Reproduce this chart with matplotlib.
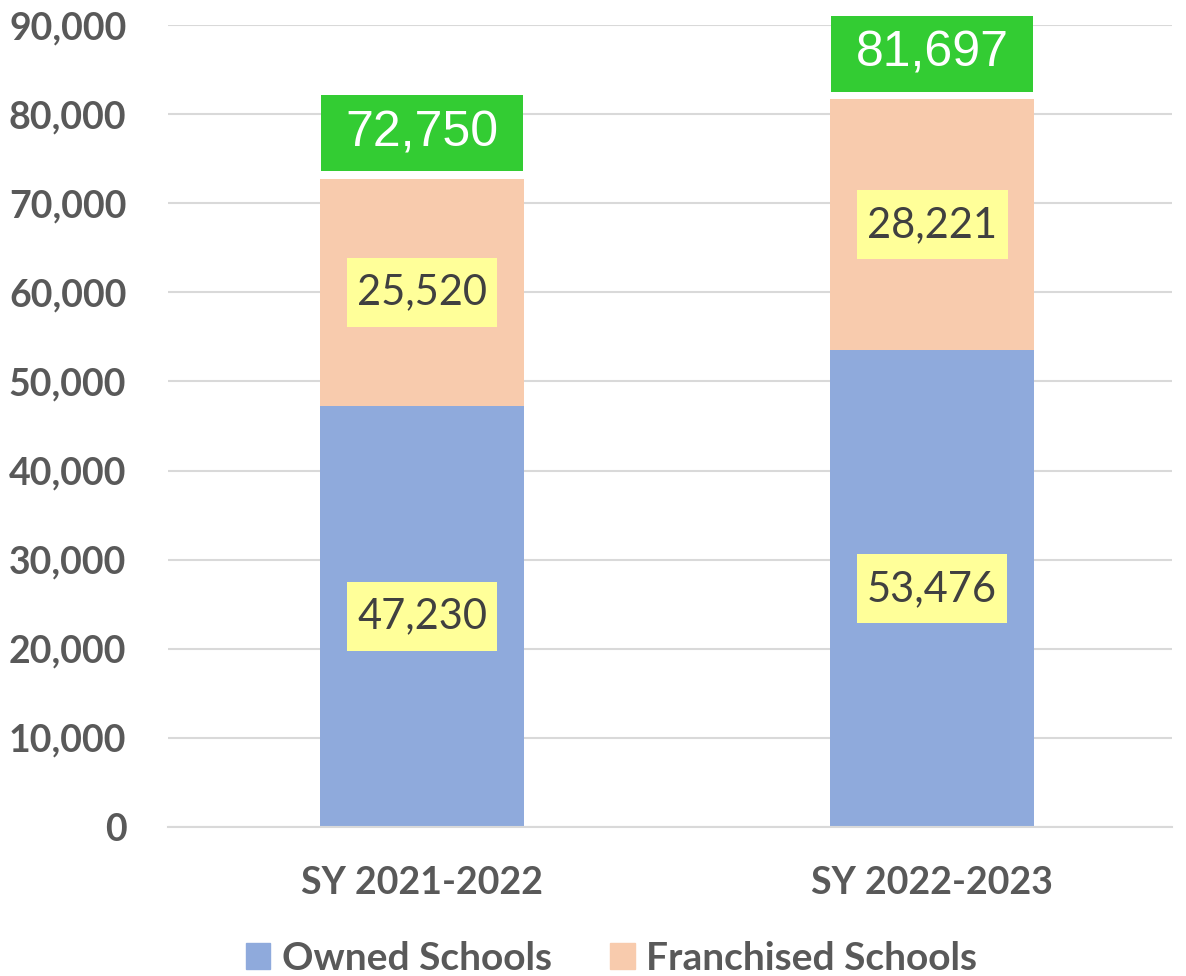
import matplotlib
matplotlib.use("Agg")
import matplotlib.pyplot as plt
from matplotlib.patches import Patch
from matplotlib.path import Path

# data
years = ['SY 2021-2022', 'SY 2022-2023']
owned = [47230, 53476]
franchised = [25520, 28221]
totals = [o + f for o, f in zip(owned, franchised)]
y_ticks = [0, 10000, 20000, 30000, 40000, 50000, 60000, 70000, 80000, 90000]

blue = '#8FAADC'
peach = '#F8CBAD'
grey_text = '#595959'


def box_pad(hpad, vpad):
    """square label box with separate horizontal / vertical padding (in em)"""
    def style(x0, y0, width, height, mutation_size):
        dx = hpad * mutation_size
        dy = vpad * mutation_size
        x0, y0 = x0 - dx, y0 - dy
        x1, y1 = x0 + width + 2 * dx, y0 + height + 2 * dy
        return Path([(x0, y0), (x1, y0), (x1, y1), (x0, y1), (x0, y0)],
                    closed=True)
    return style


fig = plt.figure(figsize=(11.86, 9.76), dpi=100)
ax = fig.add_axes([0.1417, 0.1527, 0.8463, 0.8217])

x = range(len(years))
b1 = ax.bar(x, owned, width=0.4, color=blue, zorder=2)
b2 = ax.bar(x, franchised, width=0.4, bottom=owned, color=peach, zorder=2)

# segment labels on yellow boxes
for cont in (b1, b2):
    ax.bar_label(cont, labels=[f'{v:,}' for v in cont.datavalues],
                 label_type='center', fontsize=30, family='Lato',
                 color='#404040', zorder=3,
                 bbox=dict(boxstyle=box_pad(0.25, 0.37), fc='#FFFF99', ec='none'))

# totals on green boxes above the bars
for xi, t in zip(x, totals):
    ax.annotate(f'{t:,}', (xi, t), xytext=(0, 16), textcoords='offset points',
                ha='center', va='bottom', fontsize=36, family='Liberation Sans',
                color='white', zorder=3,
                bbox=dict(boxstyle=box_pad(0.49, 0.3), fc='#33CC33', ec='none'))

ax.set_xlim(-0.498, 1.47)
ax.set_ylim(0, 90000)
ax.set_yticks(y_ticks)
ax.set_yticklabels([f'{v:,}' for v in y_ticks])
ax.set_xticks(list(x))
ax.set_xticklabels(years)

for lab in ax.get_xticklabels() + ax.get_yticklabels():
    lab.set_family('Lato')
    lab.set_fontweight('bold')
    lab.set_fontsize(27)
    lab.set_color(grey_text)

ax.tick_params(axis='both', length=0)
ax.tick_params(axis='y', pad=30)
ax.tick_params(axis='x', pad=28)
ax.yaxis.grid(True, color='#D9D9D9', linewidth=1.5, zorder=0)
ax.set_axisbelow(True)
for side in ['top', 'right', 'left']:
    ax.spines[side].set_visible(False)
ax.spines['bottom'].set_color('#D9D9D9')
ax.spines['bottom'].set_linewidth(1.5)

handles = [Patch(color=blue, label='Owned Schools'),
           Patch(color=peach, label='Franchised Schools')]
leg = fig.legend(handles=handles, loc='center', bbox_to_anchor=(0.5156, 0.0184),
                 ncol=2, frameon=False, handlelength=0.63, handleheight=0.63,
                 handletextpad=0.3, columnspacing=1.5, borderpad=0,
                 prop={'family': 'Lato', 'weight': 'bold', 'size': 28})
for t in leg.get_texts():
    t.set_color(grey_text)

fig.savefig('out.png', dpi=100)
